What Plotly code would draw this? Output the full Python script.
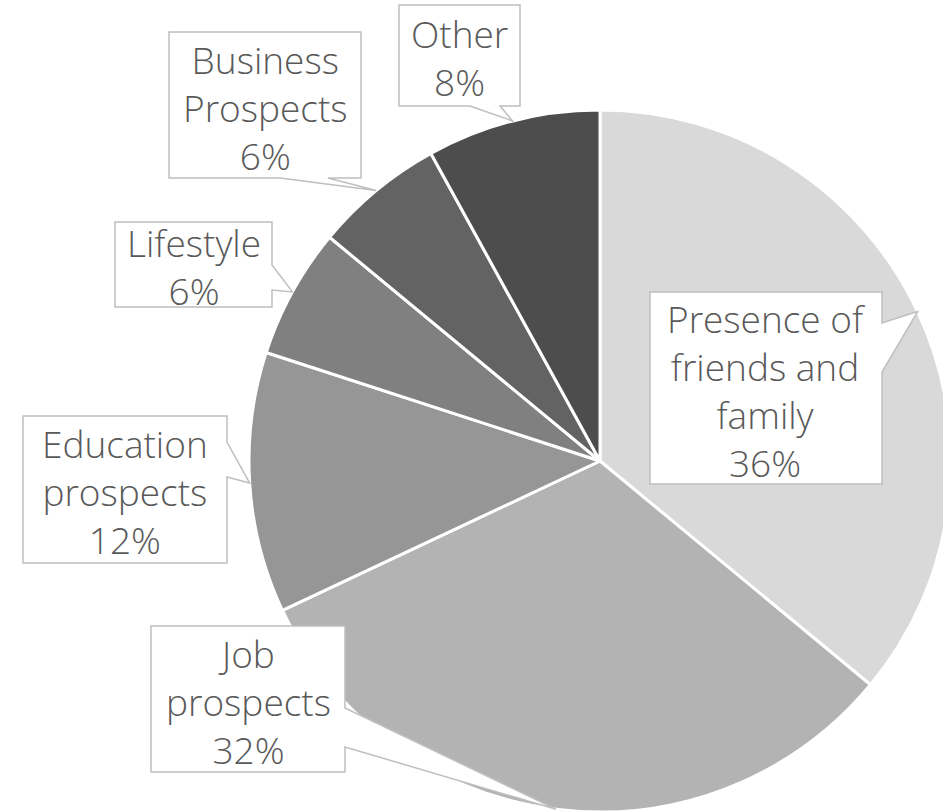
import math
import plotly.graph_objects as go

labels = ["Presence of friends and family", "Job prospects", "Education prospects",
          "Lifestyle", "Business Prospects", "Other"]
values = [36, 32, 12, 6, 6, 8]
label_lines = ["Presence of<br>friends and<br>family", "Job<br>prospects",
               "Education<br>prospects", "Lifestyle", "Business<br>Prospects", "Other"]
colors = ["#d9d9d9", "#b3b3b3", "#969696", "#808080", "#636363", "#4d4d4d"]

W, H = 953, 812
CX, CY, R = 600, 461, 351

# callout boxes in pixel space: (x0, y0, x1, y1), side of pointer, pointer base span
boxes = [
    ((650, 292, 882, 484), "right", (323, 372)),
    ((151, 626, 345, 772), "right", (708, 747)),
    ((23, 416, 227, 563), "right", (442, 477)),
    ((115, 222, 272, 307), "right", (265, 290)),
    ((169, 32, 361, 178), "bottom", (280, 328)),
    ((399, 5, 520, 106), "bottom", (470, 500)),
]

def px(x):
    return x / W

def py(y):
    return 1 - y / H

fig = go.Figure()
fig.add_trace(go.Pie(
    labels=labels, values=values, sort=False, direction="clockwise", rotation=0,
    marker=dict(colors=colors, line=dict(color="white", width=3)),
    textinfo="none", hoverinfo="label+percent", showlegend=False,
    domain=dict(x=[(CX - R) / W, (CX + R) / W], y=[1 - (CY + R) / H, 1 - (CY - R) / H]),
))

total = sum(values)
cum = 0
shapes = []
annotations = []
for i, v in enumerate(values):
    mid = 2 * math.pi * (cum + v / 2) / total
    cum += v
    tx = CX + R * math.sin(mid)
    ty = CY - R * math.cos(mid)
    (x0, y0, x1, y1), side, (b0, b1) = boxes[i]
    if side == "right":
        pts = [(x0, y0), (x1, y0), (x1, b0), (tx, ty), (x1, b1), (x1, y1), (x0, y1)]
    else:
        pts = [(x0, y0), (x1, y0), (x1, y1), (b1, y1), (tx, ty), (b0, y1), (x0, y1)]
    path = "M " + " L ".join(f"{px(a):.5f},{py(b):.5f}" for a, b in pts) + " Z"
    shapes.append(dict(type="path", xref="paper", yref="paper", path=path,
                       fillcolor="white", line=dict(color="#bfbfbf", width=1.5)))
    pct = round(100 * v / total)
    annotations.append(dict(
        x=px((x0 + x1) / 2), y=py((y0 + y1) / 2 + 2), xref="paper", yref="paper",
        text=f"{label_lines[i]}<br>{pct}%", showarrow=False, align="center",
        xanchor="center", yanchor="middle",
        font=dict(family="Open Sans", size=37, color="#595959", weight=300),
    ))

fig.update_layout(
    width=W, height=H, margin=dict(l=0, r=0, t=0, b=0),
    paper_bgcolor="white", plot_bgcolor="white",
    shapes=shapes, annotations=annotations,
)

fig.write_html("out.html", config={"displayModeBar": False}, post_script=(
    "document.documentElement.style.overflow='hidden';"
    "document.body.style.overflow='hidden';document.body.style.margin='0';"))
